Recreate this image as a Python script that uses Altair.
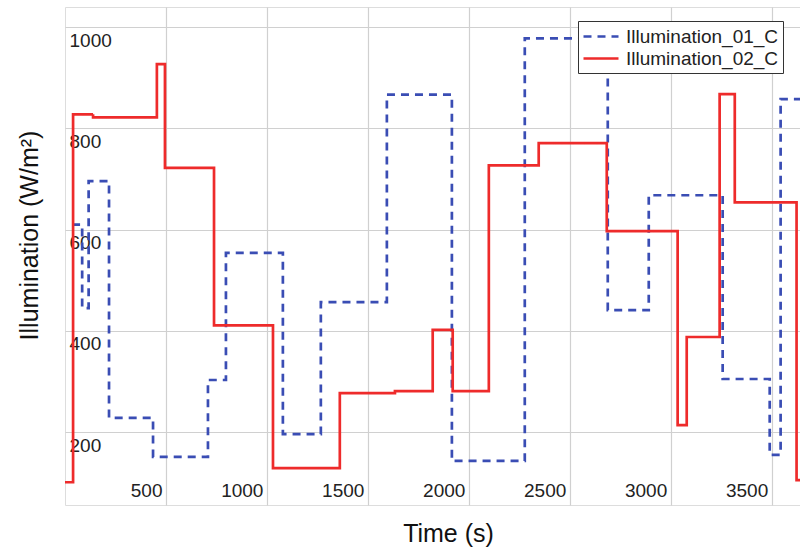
import altair as alt
import pandas as pd

# ---- data ----
series = ["Illumination_01_C", "Illumination_02_C"]

t_01 = [35, 85, 117, 218, 436, 708, 797, 1079, 1267, 1594, 1916, 2277, 2688, 2891, 3257, 3490, 3544, 3640]
v_01 = [610, 445, 696, 228, 151, 303, 554, 196, 457, 867, 143, 978, 441, 668, 305, 155, 858, 858]

t_02 = [0, 40, 139, 455, 495, 738, 1030, 1361, 1634, 1821, 1920, 2099, 2346, 2683, 3034, 3079, 3242, 3317, 3623, 3640]
v_02 = [101, 828, 822, 927, 722, 411, 129, 277, 281, 402, 281, 727, 771, 597, 214, 388, 868, 654, 105, 105]

x_ticks = [500, 1000, 1500, 2000, 2500, 3000, 3500]
y_ticks = [200, 400, 600, 800, 1000]

colors = ["#3a4db4", "#ee2b2b"]
dashes = [[8, 6], [1, 0]]

rows = []
for t, v in zip(t_01, v_01):
    rows.append({"t": t, "v": v, "series": series[0]})
for t, v in zip(t_02, v_02):
    rows.append({"t": t, "v": v, "series": series[1]})
df = pd.DataFrame(rows)

FONT = "Liberation Sans"

legend = alt.Legend(
    title=None,
    orient="none",
    legendX=513,
    legendY=14,
    symbolType="M-1,0L2.5,0",
    symbolSize=400,
    symbolStrokeWidth=2.7,
    labelFont=FONT,
    labelFontSize=19,
    labelColor="#222222",
    labelOffset=21,
    fillColor="white",
    strokeColor="#333333",
    padding=4,
    rowPadding=0,
    cornerRadius=0,
)

chart = (
    alt.Chart(df)
    .mark_line(interpolate="step-after", strokeWidth=2.7, clip=True)
    .encode(
        x=alt.X(
            "t:Q",
            scale=alt.Scale(domain=[0, 3640], nice=False, zero=False),
            axis=alt.Axis(
                values=x_ticks,
                format="d",
                title="Time (s)",
                titleFont=FONT,
                titleFontSize=25,
                titleFontWeight="normal",
                titleColor="#111111",
                titleX=383,
                titleY=36,
                titleBaseline="alphabetic",
                titleAlign="center",
                labelFont=FONT,
                labelFontSize=19,
                labelColor="#222222",
                labelAlign="right",
                labelBaseline="middle",
                labelPadding=-15,
                labelOffset=-4,
                labelFlush=False,
                labelOverlap=False,
                ticks=False,
                tickSize=0,
                domain=False,
                grid=True,
                gridColor="#d0d0d0",
                gridWidth=1.2,
            ),
        ),
        y=alt.Y(
            "v:Q",
            scale=alt.Scale(domain=[56, 1040], nice=False, zero=False),
            axis=alt.Axis(
                values=y_ticks,
                format="d",
                title="Illumination (W/m²)",
                titleFont=FONT,
                titleFontSize=25,
                titleFontWeight="normal",
                titleColor="#111111",
                titleX=-28,
                titleY=228,
                titleAngle=-90,
                titleBaseline="alphabetic",
                titleAlign="center",
                labelFont=FONT,
                labelFontSize=19,
                labelColor="#222222",
                labelAlign="left",
                labelBaseline="middle",
                labelPadding=-4,
                labelOffset=13,
                labelFlush=False,
                labelOverlap=False,
                ticks=False,
                tickSize=0,
                domain=False,
                grid=True,
                gridColor="#d0d0d0",
                gridWidth=1.2,
            ),
        ),
        color=alt.Color("series:N", scale=alt.Scale(domain=series, range=colors), legend=legend),
        strokeDash=alt.StrokeDash("series:N", scale=alt.Scale(domain=series, range=dashes), legend=legend),
    )
    .properties(
        width=735,
        height=498,
        autosize=alt.AutoSizeParams(type="none"),
        padding={"left": 65, "top": 7, "right": 0, "bottom": 47},
    )
    .configure_view(stroke="#444444", strokeWidth=1.5)
    .configure(background="white")
)

chart.save("out.html", embed_options={"renderer": "svg", "actions": False})
